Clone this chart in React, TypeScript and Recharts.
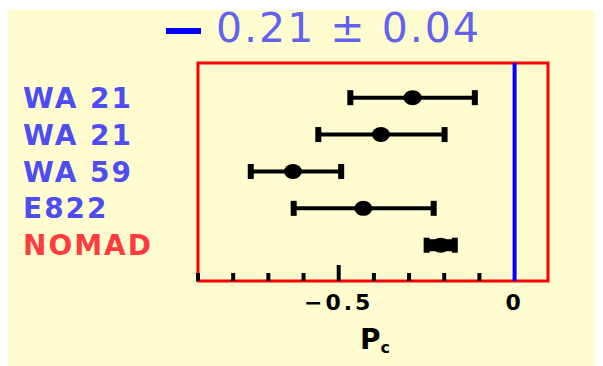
import React from "react";
import {
  ScatterChart,
  Scatter,
  XAxis,
  YAxis,
  ReferenceArea,
  ReferenceLine,
  Label,
} from "recharts";

// measurements, top to bottom
const rowNames = ["WA 21", "WA 21", "WA 59", "E822", "NOMAD"];
const centers = [-0.29, -0.38, -0.63, -0.43, -0.21];
const lows = [-0.467, -0.558, -0.75, -0.628, -0.25];
const highs = [-0.113, -0.199, -0.493, -0.23, -0.17];

const xTicks = [-0.9, -0.8, -0.7, -0.6, -0.5, -0.4, -0.3, -0.2, -0.1, 0];
const labelledTicks = [-0.5, 0];

const BG = "#fffdd0";
const FONT = "'DejaVu Sans', sans-serif";

const centerData = centers.map((x, i) => ({ x, y: i + 1 }));
const rangeData = rowNames.map((_, i) => [
  { x: lows[i], y: i + 1 },
  { x: highs[i], y: i + 1 },
]);

const Cap = (props: any) => (
  <rect x={props.cx - 3} y={props.cy - 7.5} width={6} height={15} fill="#000" />
);

const Dot = (props: any) => (
  <ellipse cx={props.cx} cy={props.cy} rx={9} ry={7.5} fill="#000" />
);

const RowTick = (props: any) => {
  const { x, y, payload } = props;
  const i = payload.value - 1;
  const isNomad = rowNames[i] === "NOMAD";
  return (
    <text
      x={x - 175}
      y={y}
      dy="0.36em"
      textAnchor="start"
      fontFamily={FONT}
      fontWeight="bold"
      fontSize={28}
      letterSpacing={2}
      fill={isNomad ? "#ff3b3b" : "#4d4df2"}
    >
      {rowNames[i]}
    </text>
  );
};

const PcTick = (props: any) => {
  const { x, y, payload } = props;
  const v = payload.value;
  const major = labelledTicks.some((t) => Math.abs(t - v) < 1e-9);
  return (
    <g>
      {v !== 0 && (
        <line x1={x} x2={x} y1={y} y2={y - (major ? 16 : 8)} stroke="#000" strokeWidth={4} />
      )}
      {major && (
        <text
          x={x}
          y={y + 29}
          textAnchor="middle"
          fontFamily={FONT}
          fontWeight="bold"
          fontSize={22}
          letterSpacing={3}
          fill="#000"
        >
          {v === 0 ? "0" : `\u2212${Math.abs(v)}`}
        </text>
      )}
    </g>
  );
};

const PcTitle = (props: any) => {
  const vb = props.viewBox;
  return (
    <text
      x={vb.x + vb.width / 2 + 2}
      y={vb.y + 68}
      textAnchor="middle"
      fontFamily={FONT}
      fontWeight="bold"
      fontSize={28}
      fill="#000"
    >
      P
      <tspan fontSize={16} dy={4}>
        c
      </tspan>
    </text>
  );
};

export default function App() {
  return (
    <div
      style={{
        position: "relative",
        width: 595,
        height: 356,
        marginTop: 2,
        background: BG,
      }}
    >
      {/* legend line plus combined value */}
      <span
        style={{
          position: "absolute",
          left: 158,
          top: 18,
          width: 35,
          height: 6,
          background: "#0000ff",
        }}
      />
      <span
        style={{
          position: "absolute",
          left: 208,
          top: -2,
          fontFamily: FONT,
          fontSize: 41,
          lineHeight: "41px",
          color: "#6262ee",
          letterSpacing: 2,
          whiteSpace: "nowrap",
        }}
      >
        0.21 ± 0.04
      </span>
      <ScatterChart
        width={595}
        height={356}
        margin={{ top: 53, right: 55, bottom: 25, left: 10 }}
      >
        <XAxis
          type="number"
          dataKey="x"
          domain={[-0.9, 0.095]}
          ticks={xTicks}
          interval={0}
          allowDataOverflow
          axisLine={false}
          tickLine={false}
          tickSize={0}
          tickMargin={0}
          height={60}
          tick={<PcTick />}
        >
          <Label content={PcTitle} />
        </XAxis>
        <YAxis
          type="number"
          dataKey="y"
          domain={[0.06, 5.97]}
          reversed
          ticks={[1, 2, 3, 4, 5]}
          interval={0}
          allowDataOverflow
          axisLine={false}
          tickLine={false}
          tickSize={0}
          tickMargin={0}
          width={180}
          tick={<RowTick />}
        />
        <ReferenceArea
          x1={-0.9}
          x2={0.095}
          fill="none"
          stroke="#ff0000"
          strokeWidth={3}
          ifOverflow="visible"
        />
        {rangeData.map((d, i) => (
          <Scatter
            key={`range-${i}`}
            data={d}
            line={{ stroke: "#000", strokeWidth: rowNames[i] === "NOMAD" ? 12 : 4 }}
            shape={Cap}
            isAnimationActive={false}
          />
        ))}
        <Scatter data={centerData} shape={Dot} isAnimationActive={false} />
        <ReferenceLine x={0} stroke="#0000ff" strokeWidth={4} ifOverflow="visible" />
      </ScatterChart>
    </div>
  );
}
